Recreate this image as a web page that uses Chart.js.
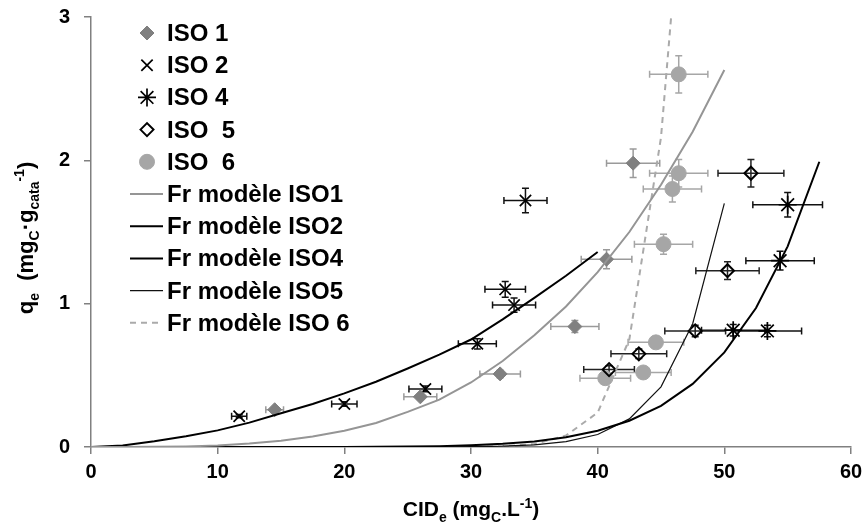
<!DOCTYPE html>
<html>
<head>
<meta charset="utf-8">
<script src="https://cdn.jsdelivr.net/npm/chart.js@4.4.0/dist/chart.umd.min.js"></script>
<style>
    html, body { margin: 0; padding: 0; background: #fff; }
    #wrap { width: 867px; height: 528px; }
</style>
</head>
<body>
<div id="wrap"><canvas id="isoChart" width="867" height="528"></canvas></div>
<script>
// Measured points (CIDe, qe) and their error bars
const iso1X = [14.5, 26.0, 32.3, 38.2, 40.7, 42.8];
const iso1Y = [0.26, 0.35, 0.51, 0.84, 1.31, 1.98];
const iso1ErrX = [0.7, 1.3, 1.6, 1.9, 2.0, 2.1];
const iso1ErrY = [0.013, 0.018, 0.026, 0.042, 0.066, 0.099];

const iso2X = [11.7, 20.0, 26.4, 30.5, 32.7, 33.4, 34.3];
const iso2Y = [0.215, 0.30, 0.405, 0.72, 1.10, 0.99, 1.72];
const iso2ErrX = [0.6, 1.0, 1.3, 1.5, 1.6, 1.7, 1.7];
const iso2ErrY = [0.011, 0.015, 0.02, 0.036, 0.055, 0.05, 0.086];

const iso4X = [50.7, 53.4, 54.4, 55.0];
const iso4Y = [0.815, 0.81, 1.30, 1.69];
const iso4ErrX = [2.5, 2.7, 2.7, 2.75];
const iso4ErrY = [0.04, 0.04, 0.065, 0.085];

const iso5X = [40.9, 43.25, 47.7, 50.25, 52.1];
const iso5Y = [0.54, 0.65, 0.81, 1.23, 1.91];
const iso5ErrX = [2.0, 2.2, 2.4, 2.5, 2.6];
const iso5ErrY = [0.027, 0.033, 0.04, 0.062, 0.096];

const iso6X = [40.6, 43.6, 44.6, 45.2, 45.9, 46.4, 46.4];
const iso6Y = [0.48, 0.52, 0.73, 1.415, 1.80, 1.91, 2.60];
const iso6ErrX = [2.0, 2.2, 2.2, 2.3, 2.3, 2.3, 2.3];
const iso6ErrY = [0.024, 0.026, 0.037, 0.07, 0.09, 0.096, 0.13];

// Freundlich model curves
const fr1X = [0, 2.5, 5, 7.5, 10, 12.5, 15, 17.5, 20, 22.5, 25, 27.5, 30, 32.5, 35, 37.5, 40, 42.5, 45, 47.5, 50];
const fr1Y = [0, 0, 0.001, 0.004, 0.011, 0.024, 0.044, 0.074, 0.113, 0.167, 0.245, 0.33, 0.45, 0.60, 0.78, 0.98, 1.22, 1.50, 1.83, 2.20, 2.63];

const fr2X = [0, 2.5, 5, 7.5, 10, 12.5, 15, 17.5, 20, 22.5, 25, 27.5, 30, 32.5, 35, 37.5, 40];
const fr2Y = [0, 0.01, 0.04, 0.075, 0.116, 0.17, 0.235, 0.30, 0.374, 0.455, 0.548, 0.645, 0.75, 0.89, 1.04, 1.195, 1.36];

const fr4X = [0, 2.5, 5, 7.5, 10, 12.5, 15, 17.5, 20, 22.5, 25, 27.5, 30, 32.5, 35, 37.5, 40, 42.5, 45, 47.5, 50, 52.5, 55, 57.5];
const fr4Y = [0, 0, 0, 0, 0, 0, 0, 0, 0.0005, 0.0012, 0.0028, 0.0059, 0.012, 0.022, 0.039, 0.068, 0.113, 0.183, 0.287, 0.44, 0.66, 0.97, 1.40, 1.99];

const fr5X = [0, 2.5, 5, 7.5, 10, 12.5, 15, 17.5, 20, 22.5, 25, 27.5, 30, 32.5, 35, 37.5, 40, 42.5, 45, 47.5, 50];
const fr5Y = [0, 0, 0, 0, 0, 0, 0, 0, 0, 0, 0, 0, 0.002, 0.0055, 0.015, 0.037, 0.087, 0.196, 0.42, 0.86, 1.70];

const fr6X = [0, 2.5, 5, 7.5, 10, 12.5, 15, 17.5, 20, 22.5, 25, 27.5, 30, 32.5, 35, 37.5, 40, 42.5, 45, 45.8];
const fr6Y = [0, 0, 0, 0, 0, 0, 0, 0, 0, 0, 0, 0, 0, 0.005, 0.02, 0.08, 0.24, 0.75, 2.16, 3.0];

const legendLabels = ['ISO 1', 'ISO 2', 'ISO 4', 'ISO  5', 'ISO  6',
    'Fr modèle ISO1', 'Fr modèle ISO2', 'Fr modèle ISO4', 'Fr modèle ISO5', 'Fr modèle ISO 6'];

const FONT = '"Liberation Sans", Arial, sans-serif';

function pts(xs, ys) {
    return xs.map((x, i) => ({ x: x, y: ys[i] }));
}

function markerSet(label, xs, ys, ex, ey, style, radius, fill, border, bw, errColor) {
    return {
        type: 'scatter', label: label, data: pts(xs, ys),
        pointStyle: style, pointRadius: radius, pointHoverRadius: radius,
        backgroundColor: fill, borderColor: border, pointBorderWidth: bw, borderWidth: bw,
        errX: ex, errY: ey, errColor: errColor, order: 2
    };
}

function modelSet(label, xs, ys, color, width, dash) {
    return {
        type: 'line', label: label, data: pts(xs, ys),
        borderColor: color, borderWidth: width, borderDash: dash || [],
        pointRadius: 0, tension: 0, fill: false, order: 1
    };
}

const datasets = [
    markerSet(legendLabels[0], iso1X, iso1Y, iso1ErrX, iso1ErrY, 'rectRot', 7, '#808080', '#808080', 1, '#9a9a9a'),
    markerSet(legendLabels[1], iso2X, iso2Y, iso2ErrX, iso2ErrY, 'crossRot', 8, '#000', '#000', 1.7, '#111'),
    markerSet(legendLabels[2], iso4X, iso4Y, iso4ErrX, iso4ErrY, 'star', 9, '#000', '#000', 1.7, '#111'),
    markerSet(legendLabels[3], iso5X, iso5Y, iso5ErrX, iso5ErrY, 'rectRot', 6.5, 'rgba(255,255,255,0)', '#000', 2, '#222'),
    markerSet(legendLabels[4], iso6X, iso6Y, iso6ErrX, iso6ErrY, 'circle', 7.5, '#a6a6a6', '#a6a6a6', 1, '#a6a6a6'),
    modelSet(legendLabels[5], fr1X, fr1Y, '#959595', 2),
    modelSet(legendLabels[6], fr2X, fr2Y, '#000', 2),
    modelSet(legendLabels[7], fr4X, fr4Y, '#000', 2),
    modelSet(legendLabels[8], fr5X, fr5Y, '#111', 1.2),
    modelSet(legendLabels[9], fr6X, fr6Y, '#aaaaaa', 2, [6, 5])
];

// Draw error bars under the markers
const errorBars = {
    id: 'errorBars',
    beforeDatasetsDraw(chart) {
        const ctx = chart.ctx, xs = chart.scales.x, ys = chart.scales.y;
        chart.data.datasets.forEach(ds => {
            if (!ds.errX) return;
            ctx.save();
            ctx.strokeStyle = ds.errColor;
            ctx.lineWidth = 1.5;
            ds.data.forEach((p, j) => {
                const px = xs.getPixelForValue(p.x), py = ys.getPixelForValue(p.y);
                const x1 = xs.getPixelForValue(p.x - ds.errX[j]), x2 = xs.getPixelForValue(p.x + ds.errX[j]);
                const y1 = ys.getPixelForValue(p.y - ds.errY[j]), y2 = ys.getPixelForValue(p.y + ds.errY[j]);
                ctx.beginPath();
                ctx.moveTo(x1, py); ctx.lineTo(x2, py);
                ctx.moveTo(x1, py - 3.5); ctx.lineTo(x1, py + 3.5);
                ctx.moveTo(x2, py - 3.5); ctx.lineTo(x2, py + 3.5);
                ctx.moveTo(px, y1); ctx.lineTo(px, y2);
                ctx.moveTo(px - 3.5, y1); ctx.lineTo(px + 3.5, y1);
                ctx.moveTo(px - 3.5, y2); ctx.lineTo(px + 3.5, y2);
                ctx.stroke();
            });
            ctx.restore();
        });
    }
};

// text with sub/superscripts: parts = [[text, 'sub'|'sup'|'']]
function richWidth(ctx, parts, size) {
    let w = 0;
    parts.forEach(p => {
        ctx.font = 'bold ' + (p[1] ? Math.round(size * 0.65) : size) + 'px ' + FONT;
        w += ctx.measureText(p[0]).width;
    });
    return w;
}
function drawRich(ctx, parts, x, y, size) {
    let cx = x;
    parts.forEach(p => {
        const s = p[1] ? Math.round(size * 0.65) : size;
        ctx.font = 'bold ' + s + 'px ' + FONT;
        const dy = p[1] === 'sub' ? size * 0.28 : (p[1] === 'sup' ? -size * 0.4 : 0);
        ctx.fillText(p[0], cx, y + dy);
        cx += ctx.measureText(p[0]).width;
    });
}

const decorations = {
    id: 'decorations',
    afterDraw(chart) {
        const ctx = chart.ctx;
        ctx.save();
        ctx.fillStyle = '#000';
        ctx.textBaseline = 'alphabetic';
        ctx.textAlign = 'left';

        // legend inside plot
        const symX = 147, txtX = 167, top = 33, step = 32.2;
        legendLabels.forEach((lab, i) => {
            const y = top + i * step;
            const ds = chart.data.datasets[i];
            if (i < 5) {
                ctx.fillStyle = i === 3 ? '#fff' : ds.backgroundColor;
                ctx.strokeStyle = ds.borderColor;
                ctx.lineWidth = ds.pointBorderWidth;
                Chart.helpers.drawPoint(ctx, {
                    pointStyle: ds.pointStyle, radius: ds.pointRadius,
                    borderWidth: ds.pointBorderWidth
                }, symX, y);
            } else {
                ctx.strokeStyle = ds.borderColor;
                ctx.lineWidth = ds.borderWidth;
                ctx.setLineDash(ds.borderDash);
                ctx.beginPath();
                ctx.moveTo(130, y); ctx.lineTo(163, y);
                ctx.stroke();
                ctx.setLineDash([]);
            }
            ctx.fillStyle = '#000';
            ctx.font = 'bold 24px ' + FONT;
            ctx.fillText(lab, txtX, y + 8);
        });

        // x axis title
        const xt = [['CID', ''], ['e', 'sub'], [' (mg', ''], ['C', 'sub'], ['.L', ''], ['-1', 'sup'], [')', '']];
        const xw = richWidth(ctx, xt, 21);
        ctx.fillStyle = '#000';
        drawRich(ctx, xt, 471 - xw / 2, 516, 21);

        // y axis title
        const yt = [['q', ''], ['e', 'sub'], ['  (mg', ''], ['C', 'sub'], ['·g', ''], ['cata', 'sub'], ['-1', 'sup'], [')', '']];
        const yw = richWidth(ctx, yt, 22);
        ctx.translate(33, 238);
        ctx.rotate(-Math.PI / 2);
        drawRich(ctx, yt, -yw / 2, 0, 22);
        ctx.restore();
    }
};

const ctx = document.getElementById('isoChart').getContext('2d');
new Chart(ctx, {
    type: 'scatter',
    data: { datasets: datasets },
    options: {
        responsive: false,
        animation: false,
        devicePixelRatio: 1,
        layout: { padding: { left: 0, right: 16, top: 17, bottom: 0 } },
        plugins: {
            legend: { display: false },
            tooltip: { enabled: false }
        },
        scales: {
            x: {
                type: 'linear', min: 0, max: 60,
                ticks: {
                    stepSize: 10, color: '#000', padding: 6,
                    font: { family: FONT, size: 20, weight: 'bold' }
                },
                grid: { display: true, drawOnChartArea: false, drawTicks: true, tickLength: 7, color: '#808080', lineWidth: 1.5 },
                border: { display: true, color: '#808080', width: 1.5 },
                afterFit: (s) => { s.height = 81; s.paddingLeft = 0; s.paddingRight = 0; }
            },
            y: {
                type: 'linear', min: 0, max: 3,
                ticks: {
                    stepSize: 1, color: '#000', padding: 14,
                    font: { family: FONT, size: 20, weight: 'bold' }
                },
                grid: { display: true, drawOnChartArea: false, drawTicks: true, tickLength: 7, color: '#808080', lineWidth: 1.5 },
                border: { display: true, color: '#808080', width: 1.5 },
                afterFit: (s) => { s.width = 91; s.paddingTop = 0; s.paddingBottom = 0; }
            }
        }
    },
    plugins: [errorBars, decorations]
});
</script>
</body>
</html>
